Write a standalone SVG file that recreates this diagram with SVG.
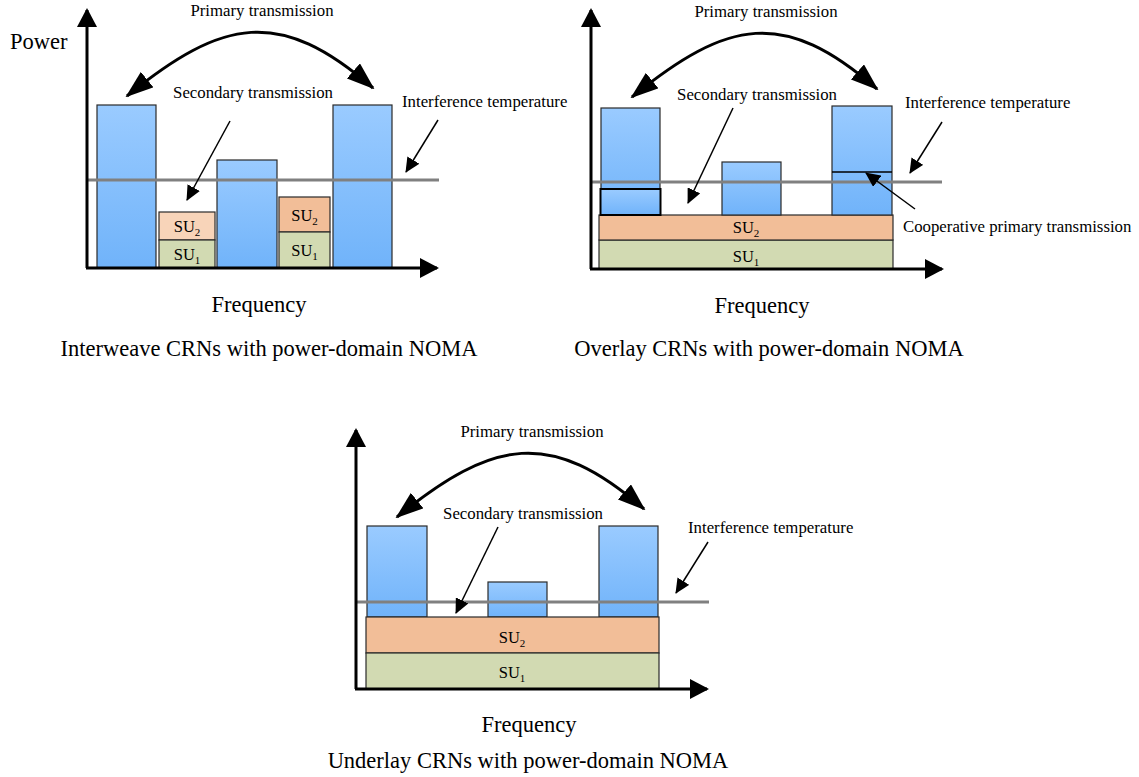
<svg xmlns="http://www.w3.org/2000/svg" width="1139" height="777" viewBox="0 0 1139 777">
<style>
text{font-family:"Liberation Serif","Times New Roman",serif;fill:#000}
.lbl{font-size:16.8px}
.big{font-size:22.5px}
.su{font-size:16.5px}
.sub{font-size:11px}
.axis{stroke:#000;stroke-width:3;fill:none;marker-end:url(#axArrow)}
.bar{fill:url(#blue);stroke:#2a2a2a;stroke-width:1.2}
.su1{fill:#d2dab2;stroke:#2a2a2a;stroke-width:1.2}
.su2{fill:#f2be98;stroke:#2a2a2a;stroke-width:1.2}
.su2l{fill:#f8d4b9;stroke:#2a2a2a;stroke-width:1.2}
.itf{stroke:#808080;stroke-width:3;fill:none}
.arc{stroke:#000;stroke-width:3;fill:none;marker-start:url(#bigArrow);marker-end:url(#bigArrow)}
.ptr{stroke:#000;stroke-width:1.5;fill:none;marker-end:url(#smArrow)}
</style>
<defs>
<linearGradient id="blue" x1="0" y1="0" x2="0" y2="1">
<stop offset="0" stop-color="#9acbff"/>
<stop offset="1" stop-color="#70b3fa"/>
</linearGradient>
<marker id="axArrow" markerUnits="userSpaceOnUse" markerWidth="19" markerHeight="20" viewBox="0 0 19 20" refX="17" refY="10" orient="auto">
<path d="M0,0 L19,10 L0,20 z" fill="#000"/>
</marker>
<marker id="bigArrow" markerUnits="userSpaceOnUse" markerWidth="28" markerHeight="20" viewBox="0 0 28 20" refX="26" refY="10" orient="auto-start-reverse">
<path d="M0,0 L28,10 L0,20 z" fill="#000"/>
</marker>
<marker id="smArrow" markerUnits="userSpaceOnUse" markerWidth="15" markerHeight="14" viewBox="0 0 15 14" refX="14" refY="7" orient="auto">
<path d="M0,0 L15,7 L0,14 z" fill="#000"/>
</marker>
</defs>

<!-- Panel 1: Interweave -->
<g id="panel1">
  <g id="p1-bars">
    <rect class="bar" x="97" y="105" width="59" height="163"/>
    <rect class="bar" x="217" y="160" width="60" height="108"/>
    <rect class="bar" x="333" y="105" width="59" height="163"/>
  </g>
  <g id="p1-su-a">
    <rect class="su2l" x="159" y="212" width="56" height="28"/>
    <rect class="su1" x="159" y="240" width="56" height="28"/>
    <text class="su" x="187" y="232" text-anchor="middle">SU<tspan class="sub" dy="4">2</tspan></text>
    <text class="su" x="187" y="260" text-anchor="middle">SU<tspan class="sub" dy="4">1</tspan></text>
  </g>
  <g id="p1-su-b">
    <rect class="su2" x="279" y="197" width="51" height="35"/>
    <rect class="su1" x="279" y="232" width="51" height="36"/>
    <text class="su" x="304.5" y="221" text-anchor="middle">SU<tspan class="sub" dy="4">2</tspan></text>
    <text class="su" x="304.5" y="256" text-anchor="middle">SU<tspan class="sub" dy="4">1</tspan></text>
  </g>
  <g id="p1-connectors">
    <line class="itf" x1="87" y1="180" x2="439" y2="180"/>
    <path class="axis" d="M87,268 L87,10"/>
    <path class="axis" d="M86,268 L437,268"/>
    <path class="arc" d="M127,96 C223,18 280,7 373,88"/>
    <line class="ptr" x1="230" y1="121" x2="187" y2="200"/>
    <line class="ptr" x1="438" y1="120" x2="406" y2="172"/>
  </g>
  <text class="lbl" x="262" y="16" text-anchor="middle">Primary transmission</text>
  <text class="lbl" x="253" y="98" text-anchor="middle">Secondary transmission</text>
  <text class="lbl" x="402" y="107">Interference temperature</text>
  <text class="big" x="10" y="49">Power</text>
  <text class="big" x="259" y="312" text-anchor="middle">Frequency</text>
  <text class="big" x="269" y="356" text-anchor="middle">Interweave CRNs with power-domain NOMA</text>
</g>

<!-- Panel 2: Overlay -->
<g id="panel2">
  <g id="p2-su">
    <rect class="su1" x="599" y="240" width="294" height="29"/>
    <rect class="su2" x="599" y="215" width="294" height="25"/>
    <text class="su" x="746" y="233" text-anchor="middle">SU<tspan class="sub" dy="4">2</tspan></text>
    <text class="su" x="746" y="262" text-anchor="middle">SU<tspan class="sub" dy="4">1</tspan></text>
  </g>
  <g id="p2-bars">
    <rect class="bar" x="601" y="108" width="59" height="107"/>
    <rect class="bar" x="600.5" y="189" width="60" height="26" style="stroke:#000;stroke-width:2"/>
    <rect class="bar" x="722" y="162" width="59" height="53"/>
    <rect class="bar" x="832" y="106" width="60" height="109"/>
    <line x1="832" y1="172" x2="892" y2="172" stroke="#000" stroke-width="1.5"/>
  </g>
  <g id="p2-connectors">
    <line class="itf" x1="591" y1="182" x2="942" y2="182"/>
    <path class="axis" d="M591,269 L591,10"/>
    <path class="axis" d="M590,269 L942,269"/>
    <path class="arc" d="M632,97 C728,19 784,8 877,89"/>
    <line class="ptr" x1="733" y1="108" x2="688" y2="203"/>
    <line class="ptr" x1="942" y1="122" x2="910" y2="173"/>
    <line class="ptr" x1="915" y1="209" x2="866" y2="173"/>
  </g>
  <text class="lbl" x="766" y="17" text-anchor="middle">Primary transmission</text>
  <text class="lbl" x="757" y="100" text-anchor="middle">Secondary transmission</text>
  <text class="lbl" x="905" y="108">Interference temperature</text>
  <text class="lbl" x="903" y="232">Cooperative primary transmission</text>
  <text class="big" x="762" y="313" text-anchor="middle">Frequency</text>
  <text class="big" x="769" y="356" text-anchor="middle">Overlay CRNs with power-domain NOMA</text>
</g>

<!-- Panel 3: Underlay -->
<g id="panel3">
  <g id="p3-bars">
    <rect class="bar" x="367" y="526" width="60" height="91"/>
    <rect class="bar" x="488" y="582" width="59" height="35"/>
    <rect class="bar" x="599" y="526" width="59" height="91"/>
  </g>
  <g id="p3-su">
    <rect class="su2" x="366" y="617" width="293" height="36"/>
    <rect class="su1" x="366" y="653" width="293" height="36"/>
    <text class="su" x="512" y="643" text-anchor="middle">SU<tspan class="sub" dy="4">2</tspan></text>
    <text class="su" x="512" y="678" text-anchor="middle">SU<tspan class="sub" dy="4">1</tspan></text>
  </g>
  <g id="p3-connectors">
    <line class="itf" x1="356" y1="602" x2="709" y2="602"/>
    <path class="axis" d="M356,689 L356,430"/>
    <path class="axis" d="M355,689 L707,689"/>
    <path class="arc" d="M397,517 C493,439 551,428 644,509"/>
    <line class="ptr" x1="498" y1="527" x2="456" y2="613"/>
    <line class="ptr" x1="708" y1="542" x2="676" y2="593"/>
  </g>
  <text class="lbl" x="532" y="437" text-anchor="middle">Primary transmission</text>
  <text class="lbl" x="523" y="519" text-anchor="middle">Secondary transmission</text>
  <text class="lbl" x="688" y="533">Interference temperature</text>
  <text class="big" x="529" y="732" text-anchor="middle">Frequency</text>
  <text class="big" x="528" y="768" text-anchor="middle">Underlay CRNs with power-domain NOMA</text>
</g>
</svg>
